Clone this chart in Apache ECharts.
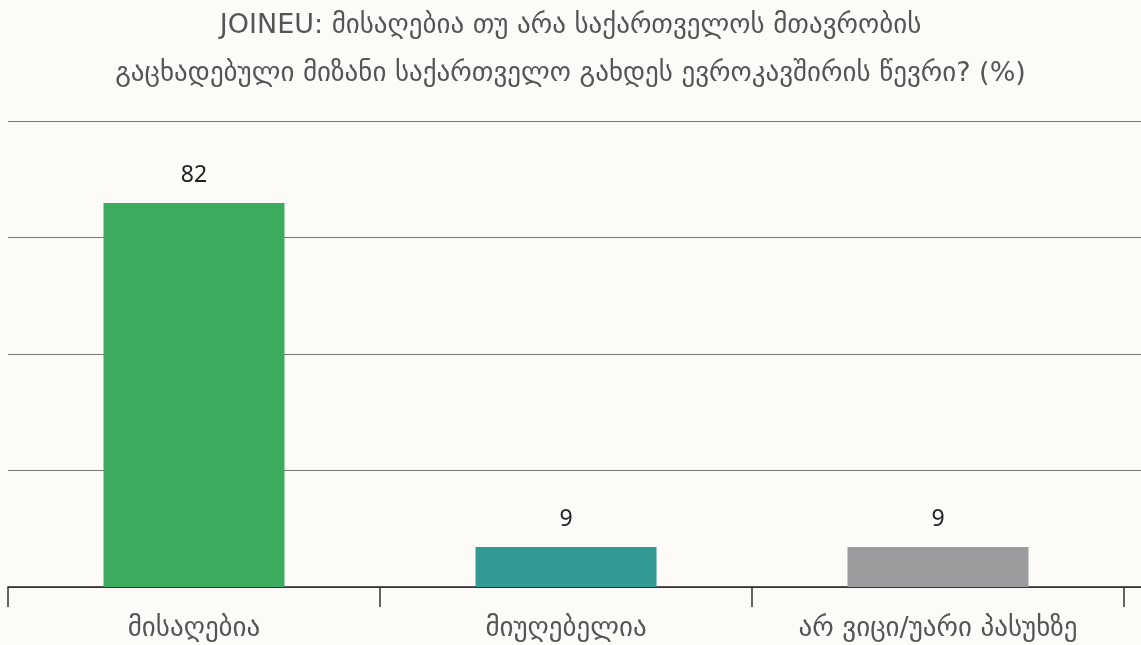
<!DOCTYPE html>
<html>
<head>
<meta charset="utf-8">
<script src="https://cdn.jsdelivr.net/npm/echarts@6/dist/echarts.min.js"></script>
<style>
  html, body { margin: 0; padding: 0; background: #fcfbf7; }
  #chart { width: 1141px; height: 645px; }
</style>
</head>
<body>
<div id="chart"></div>
<script>
const categories = ['მისაღებია', 'მიუღებელია', 'არ ვიცი/უარი პასუხზე'];
const values = [82.4, 8.6, 8.6];
const barColors = ['#3cab5d', '#339a93', '#9a9b9d'];
const yTicks = [0, 25, 50, 75, 100];

const font = '"DejaVu Sans", sans-serif';

const chart = echarts.init(document.getElementById('chart'));
chart.setOption({
  backgroundColor: '#fcfbf7',
  textStyle: { fontFamily: font },
  title: {
    text: 'JOINEU: მისაღებია თუ არა საქართველოს მთავრობის\nგაცხადებული მიზანი საქართველო გახდეს ევროკავშირის წევრი? (%)',
    left: 'center',
    top: -3,
    textStyle: { color: '#555', fontSize: 27, fontWeight: 'normal', lineHeight: 48, fontFamily: font }
  },
  grid: [
    { left: 8, right: 17, top: 121, bottom: 58 },
    { left: 8, right: 0, top: 121, bottom: 58 }
  ],
  xAxis: [
    {
      gridIndex: 0,
      type: 'category',
      data: categories,
      axisLine: { show: false },
      axisTick: {
        show: true, length: 20,
        lineStyle: { color: '#333', width: 1.5 }
      },
      axisLabel: { color: '#555', fontSize: 27, margin: 28, fontFamily: font }
    },
    {
      gridIndex: 1,
      type: 'value',
      axisLine: { show: true, onZero: false, lineStyle: { color: '#222', width: 1.5 } },
      axisTick: { show: false },
      axisLabel: { show: false },
      splitLine: { show: false }
    }
  ],
  yAxis: [
    {
      gridIndex: 0,
      type: 'value',
      min: yTicks[0],
      max: yTicks[yTicks.length - 1],
      interval: 25,
      show: false,
      splitLine: { show: false }
    },
    {
      gridIndex: 1,
      type: 'value',
      min: yTicks[0],
      max: yTicks[yTicks.length - 1],
      interval: 25,
      axisLine: { show: false },
      axisTick: { show: false },
      axisLabel: { show: false },
      splitLine: { lineStyle: { color: '#777', width: 1.2 } }
    }
  ],
  series: [{
    type: 'bar',
    xAxisIndex: 0,
    yAxisIndex: 0,
    z: 3,
    barWidth: 181,
    data: values.map((v, i) => ({ value: v, itemStyle: { color: barColors[i] } })),
    label: {
      show: true,
      position: 'top',
      distance: 16,
      color: '#222',
      fontSize: 23,
      fontFamily: '"Noto Sans", sans-serif',
      formatter: (p) => Math.round(p.value)
    }
  }]
});
</script>
</body>
</html>
